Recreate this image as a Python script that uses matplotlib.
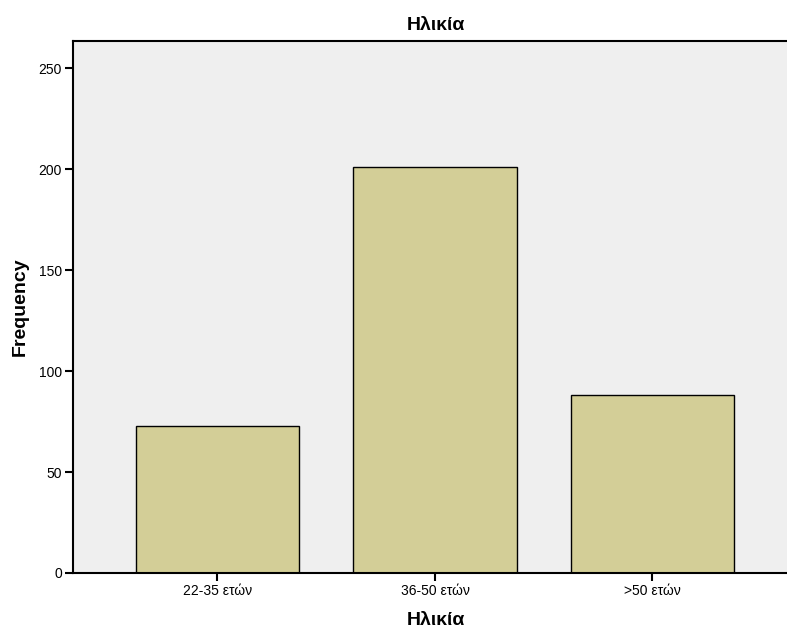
import matplotlib
matplotlib.use("Agg")
import matplotlib.pyplot as plt

plt.rcParams['font.family'] = ['Liberation Sans', 'DejaVu Sans']

categories = ['22-35 ετών', '36-50 ετών', '>50 ετών']
values = [73, 201, 88]
yticks = [0, 50, 100, 150, 200, 250]

W, H = 787, 631
fig = plt.figure(figsize=(W/100, H/100), dpi=100)
left, right, top, bottom = 73, 798, 41, 573
ax = fig.add_axes([left/W, (H-bottom)/H, (right-left)/W, (bottom-top)/H])
ax.set_facecolor('#efefef')

x = list(range(len(categories)))
ax.bar(x, values, width=0.75, color='#d3ce97', edgecolor='black', linewidth=1.0, zorder=2)

ax.set_xlim(-0.664, 2.669)
ax.set_ylim(0, 263.4)
ax.set_yticks(yticks)
ax.set_yticklabels([str(v) for v in yticks], fontsize=10)
ax.set_xticks(x)
ax.set_xticklabels(categories, fontsize=10)
ax.tick_params(axis='both', length=6, width=1.5, color='black', pad=2)

for s in ['left', 'bottom']:
    ax.spines[s].set_linewidth(1.5)
ax.spines['top'].set_linewidth(1.5)
ax.spines['right'].set_visible(False)

ax.set_title('Ηλικία', fontsize=14, fontweight='bold', pad=8)
ax.set_ylabel('Frequency', fontsize=14, fontweight='bold', labelpad=7)
ax.set_xlabel('Ηλικία', fontsize=14, fontweight='bold', labelpad=10)

fig.savefig('out.png', dpi=100)
